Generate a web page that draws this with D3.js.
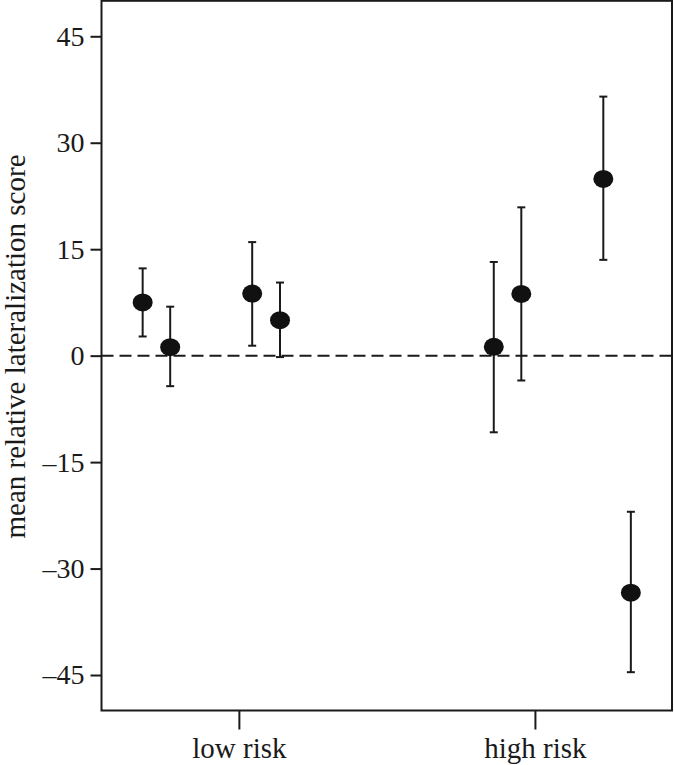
<!DOCTYPE html>
<html>
<head>
<meta charset="utf-8">
<script src="https://cdn.jsdelivr.net/npm/d3@7"></script>
<style>
  html, body { margin: 0; padding: 0; background: #fff; }
  svg { display: block; }
  text { font-family: "Liberation Serif", "Times New Roman", serif; fill: #1a1a1a; }
</style>
</head>
<body>
<svg id="chart" width="674" height="765"></svg>
<script>
// ---- data ----
const categories = ["low risk", "high risk"];
const categoryPos = [1, 2];
// x position of each estimate on the category axis (groups dodged around categories)
const pointPos = [0.675, 0.768, 1.045, 1.139, 1.861, 1.954, 2.231, 2.324];
const means    = [7.5, 1.2, 8.75, 5.0, 1.25, 8.7, 24.9, -33.4];
const upper    = [12.3, 6.9, 16.0, 10.3, 13.2, 20.9, 36.5, -22.0];
const lower    = [2.7, -4.3, 1.4, -0.2, -10.8, -3.5, 13.5, -44.6];
const yTicks   = [-45, -30, -15, 0, 15, 30, 45];
const yLabel   = "mean relative lateralization score";

// ---- layout ----
const svg = d3.select("#chart");
const plotLeft = 101.5, plotRight = 672, plotTop = 0.8, plotBottom = 710.5;
const ink = "#1a1a1a";

const x = d3.scaleLinear().domain([0.536, 2.463]).range([plotLeft, plotRight]);
const y = d3.scaleLinear().domain([-50, 50]).range([plotBottom, plotTop]);

// frame
svg.append("rect")
  .attr("x", plotLeft).attr("y", plotTop)
  .attr("width", plotRight - plotLeft).attr("height", plotBottom - plotTop)
  .attr("fill", "none").attr("stroke", ink).attr("stroke-width", 2);

// y axis
const yAxis = d3.axisLeft(y)
  .tickValues(yTicks)
  .tickSize(11)
  .tickPadding(6)
  .tickFormat(d => d < 0 ? "\u2013" + Math.abs(d) : String(d));
const gy = svg.append("g").attr("transform", `translate(${plotLeft},0)`).call(yAxis);
gy.select(".domain").remove();
gy.selectAll(".tick line").attr("stroke", ink).attr("stroke-width", 2);
gy.selectAll(".tick text")
  .attr("font-size", 28)
  .attr("fill", ink)
  .style("font-family", '"Liberation Serif", "Times New Roman", serif');

// x axis
const xAxis = d3.axisBottom(x)
  .tickValues(categoryPos)
  .tickSize(19)
  .tickPadding(8)
  .tickFormat((d, i) => categories[i]);
const gx = svg.append("g").attr("transform", `translate(0,${plotBottom})`).call(xAxis);
gx.select(".domain").remove();
gx.selectAll(".tick line").attr("stroke", ink).attr("stroke-width", 2);
gx.selectAll(".tick text")
  .attr("font-size", 29)
  .attr("fill", ink)
  .style("font-family", '"Liberation Serif", "Times New Roman", serif');

// y label
svg.append("text")
  .attr("transform", `translate(25,${(148 + 545) / 2}) rotate(-90)`)
  .attr("text-anchor", "middle")
  .attr("font-size", 29)
  .attr("fill", ink)
  .text(yLabel);

// zero reference line
svg.append("line")
  .attr("x1", plotLeft).attr("x2", plotRight)
  .attr("y1", y(0)).attr("y2", y(0))
  .attr("stroke", ink).attr("stroke-width", 2)
  .attr("stroke-dasharray", "12,6");

// error bars
const idx = d3.range(means.length);
const capW = 4;
const eb = svg.append("g");
eb.selectAll("line.v").data(idx).join("line")
  .attr("class", "v")
  .attr("x1", i => x(pointPos[i])).attr("x2", i => x(pointPos[i]))
  .attr("y1", i => y(upper[i])).attr("y2", i => y(lower[i]))
  .attr("stroke", ink).attr("stroke-width", 2);
eb.selectAll("line.t").data(idx).join("line")
  .attr("class", "t")
  .attr("x1", i => x(pointPos[i]) - capW).attr("x2", i => x(pointPos[i]) + capW)
  .attr("y1", i => y(upper[i])).attr("y2", i => y(upper[i]))
  .attr("stroke", ink).attr("stroke-width", 2);
eb.selectAll("line.b").data(idx).join("line")
  .attr("class", "b")
  .attr("x1", i => x(pointPos[i]) - capW).attr("x2", i => x(pointPos[i]) + capW)
  .attr("y1", i => y(lower[i])).attr("y2", i => y(lower[i]))
  .attr("stroke", ink).attr("stroke-width", 2);

// points
svg.append("g").selectAll("ellipse").data(idx).join("ellipse")
  .attr("cx", i => x(pointPos[i]))
  .attr("cy", i => y(means[i]))
  .attr("rx", 10).attr("ry", 9)
  .attr("fill", "#111");
</script>
</body>
</html>
